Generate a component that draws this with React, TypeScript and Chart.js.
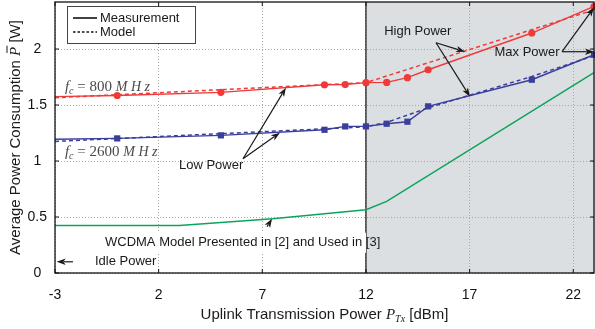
import React, { useEffect, useRef } from "react";
import { Chart, registerables } from "chart.js";

Chart.register(...registerables);

// ---- data ----
const xTicks = [-3, 2, 7, 12, 17, 22];
const yTicks = [0, 0.5, 1, 1.5, 2];
const measX = [-3, 0, 5, 10, 11, 12, 13, 14, 15, 20, 23];
const meas800 = [1.575, 1.585, 1.613, 1.681, 1.683, 1.7, 1.702, 1.744, 1.815, 2.143, 2.38];
const meas2600 = [1.195, 1.202, 1.229, 1.279, 1.309, 1.309, 1.333, 1.351, 1.488, 1.726, 1.949];
const model800X = [-3, 12, 23];
const model800 = [1.565, 1.7, 2.35];
const model2600X = [-3, 12, 13, 15, 20, 23];
const model2600 = [1.175, 1.305, 1.345, 1.475, 1.755, 1.94];
const wcdmaX = [-3, 3, 7.5, 12, 13, 23];
const wcdma = [0.425, 0.425, 0.485, 0.565, 0.64, 1.79];
const highPowerRange = [12, 23];

const RED = "#f03a3a";
const BLUE = "#3a3f9c";
const GREEN = "#0ea35c";
const SANS = "'Liberation Sans', Arial, sans-serif";
const SERIF = "'Liberation Serif', 'DejaVu Serif', serif";

const pts = (xs: number[], ys: number[]) => xs.map((x, i) => ({ x, y: ys[i] }));

type Seg = { t: string; f: string; dy?: number; bar?: boolean };

function segWidth(ctx: CanvasRenderingContext2D, segs: Seg[]) {
  let w = 0;
  for (const s of segs) {
    ctx.font = s.f;
    w += ctx.measureText(s.t).width;
  }
  return w;
}

function drawSegs(ctx: CanvasRenderingContext2D, segs: Seg[], x: number, y: number, align: "left" | "center") {
  const total = segWidth(ctx, segs);
  let cx = align === "center" ? x - total / 2 : x;
  ctx.textAlign = "left";
  ctx.textBaseline = "alphabetic";
  for (const s of segs) {
    ctx.font = s.f;
    const w = ctx.measureText(s.t).width;
    ctx.fillText(s.t, cx, y + (s.dy || 0));
    if (s.bar) {
      ctx.save();
      ctx.lineWidth = 1;
      ctx.strokeStyle = ctx.fillStyle as string;
      ctx.beginPath();
      ctx.moveTo(cx + 3, y - 13);
      ctx.lineTo(cx + w + 1, y - 13);
      ctx.stroke();
      ctx.restore();
    }
    cx += w;
  }
}

function arrow(ctx: CanvasRenderingContext2D, x0: number, y0: number, x1: number, y1: number) {
  const ang = Math.atan2(y1 - y0, x1 - x0);
  const L = 9, W = 3.2;
  ctx.beginPath();
  ctx.moveTo(x0, y0);
  ctx.lineTo(x1 - Math.cos(ang) * L * 0.8, y1 - Math.sin(ang) * L * 0.8);
  ctx.stroke();
  ctx.beginPath();
  ctx.moveTo(x1, y1);
  ctx.lineTo(x1 - Math.cos(ang) * L + Math.sin(ang) * W, y1 - Math.sin(ang) * L - Math.cos(ang) * W);
  ctx.lineTo(x1 - Math.cos(ang) * L * 0.75, y1 - Math.sin(ang) * L * 0.75);
  ctx.lineTo(x1 - Math.cos(ang) * L - Math.sin(ang) * W, y1 - Math.sin(ang) * L + Math.cos(ang) * W);
  ctx.closePath();
  ctx.fill();
}

// annotation positions in data units
const notes = [
  { text: "Low Power", at: [4.53, 0.958], from: [6.07, 1.02], to: [[8.14, 1.655], [7.85, 1.253]] },
  { text: "High Power", at: [14.5, 2.155], from: [15.38, 2.056], to: [[16.78, 1.976], [17.02, 1.574]] },
  { text: "Max Power", at: [19.77, 1.967], from: [21.46, 1.976], to: [[23.0, 2.37], [23.0, 1.976]] },
  { text: "WCDMA Model Presented in [2] and Used in [3]", at: [6.05, 0.27], from: [7.23, 0.413], to: [[7.47, 0.485]] },
];

const overlay = {
  id: "overlay",
  beforeDraw(chart: any) {
    const { ctx, chartArea: a, scales } = chart;
    const x = scales.x;
    const x0 = x.getPixelForValue(highPowerRange[0]);
    const x1 = x.getPixelForValue(highPowerRange[1]);
    ctx.save();
    ctx.fillStyle = "#dcdfe2";
    ctx.fillRect(x0, a.top, x1 - x0 + 2, a.bottom - a.top);
    ctx.restore();
  },
  beforeDatasetsDraw(chart: any) {
    const { ctx, chartArea: a, scales } = chart;
    const px = scales.x.getPixelForValue(highPowerRange[0]);
    ctx.save();
    ctx.strokeStyle = "#111";
    ctx.lineWidth = 1.2;
    ctx.beginPath();
    ctx.moveTo(px, a.top);
    ctx.lineTo(px, a.bottom);
    ctx.stroke();
    ctx.restore();
  },
  afterDraw(chart: any) {
    const { ctx, chartArea: a, scales } = chart;
    const X = (v: number) => scales.x.getPixelForValue(v);
    const Y = (v: number) => scales.y.getPixelForValue(v);
    ctx.save();

    // frame
    ctx.strokeStyle = "#111";
    ctx.lineWidth = 1.3;
    ctx.strokeRect(a.left, a.top, a.right - a.left, a.bottom - a.top);
    // inward ticks
    ctx.lineWidth = 1;
    ctx.beginPath();
    for (const v of xTicks) {
      const p = X(v);
      ctx.moveTo(p, a.bottom);
      ctx.lineTo(p, a.bottom - 4);
      ctx.moveTo(p, a.top);
      ctx.lineTo(p, a.top + 4);
    }
    for (const v of yTicks) {
      const p = Y(v);
      ctx.moveTo(a.left, p);
      ctx.lineTo(a.left + 4, p);
      ctx.moveTo(a.right, p);
      ctx.lineTo(a.right - 4, p);
    }
    ctx.stroke();

    // WCDMA label background
    const w = notes[3];
    ctx.font = `13px ${SANS}`;
    const tw = ctx.measureText(w.text).width;
    ctx.fillStyle = "#fff";
    const bx = X(w.at[0]) - tw / 2 - 2;
    ctx.fillRect(bx, Y(w.at[1]) - 10, Math.min(X(highPowerRange[0]) - bx, tw + 4), 20);

    // annotations
    ctx.fillStyle = "#1a1a1a";
    ctx.strokeStyle = "#1a1a1a";
    ctx.lineWidth = 1.2;
    ctx.textAlign = "center";
    ctx.textBaseline = "middle";
    for (const n of notes) {
      ctx.font = `13px ${SANS}`;
      ctx.fillText(n.text, X(n.at[0]), Y(n.at[1]));
      for (const t of n.to) arrow(ctx, X(n.from[0]), Y(n.from[1]), X(t[0]), Y(t[1]));
    }
    // idle power
    ctx.textAlign = "left";
    ctx.fillText("Idle Power", X(-1.07), Y(0.1));
    arrow(ctx, X(-2.13), Y(0.1), X(-2.92), Y(0.1));

    // f_c labels
    ctx.fillStyle = "#4a4a4a";
    const fc = (val: string) => [
      { t: "f", f: `italic 15px ${SERIF}` },
      { t: "c", f: `italic 10px ${SERIF}`, dy: 3 },
      { t: ` = ${val} `, f: `15px ${SERIF}` },
      { t: "M H z", f: `italic 14px ${SERIF}` },
    ];
    drawSegs(ctx, fc("800"), X(-2.52), Y(1.666) + 5, "left");
    drawSegs(ctx, fc("2600"), X(-2.52), Y(1.092) + 5, "left");

    // legend
    const lx = a.left + 12, ly = a.top + 4;
    ctx.fillStyle = "#fff";
    ctx.fillRect(lx, ly, 128, 37);
    ctx.strokeStyle = "#444";
    ctx.lineWidth = 1;
    ctx.strokeRect(lx + 0.5, ly + 0.5, 128, 37);
    ctx.strokeStyle = "#111";
    ctx.lineWidth = 1.6;
    ctx.beginPath();
    ctx.moveTo(lx + 6, ly + 12);
    ctx.lineTo(lx + 30, ly + 12);
    ctx.stroke();
    ctx.setLineDash([2.5, 2]);
    ctx.beginPath();
    ctx.moveTo(lx + 6, ly + 26);
    ctx.lineTo(lx + 30, ly + 26);
    ctx.stroke();
    ctx.setLineDash([]);
    ctx.fillStyle = "#1a1a1a";
    ctx.font = `13px ${SANS}`;
    ctx.textAlign = "left";
    ctx.textBaseline = "middle";
    ctx.fillText("Measurement", lx + 33, ly + 12);
    ctx.fillText("Model", lx + 33, ly + 26);

    // axis titles
    ctx.fillStyle = "#1a1a1a";
    drawSegs(
      ctx,
      [
        { t: "Uplink Transmission Power ", f: `15px ${SANS}` },
        { t: "P", f: `italic 15px ${SERIF}` },
        { t: "Tx", f: `italic 10px ${SERIF}`, dy: 3 },
        { t: " [dBm]", f: `15px ${SANS}` },
      ],
      (a.left + a.right) / 2,
      319,
      "center"
    );
    ctx.save();
    ctx.translate(20, (a.top + a.bottom) / 2);
    ctx.rotate(-Math.PI / 2);
    drawSegs(
      ctx,
      [
        { t: "Average Power Consumption ", f: `15px ${SANS}` },
        { t: "P", f: `italic 15px ${SERIF}`, bar: true },
        { t: " [W]", f: `15px ${SANS}` },
      ],
      0,
      0,
      "center"
    );
    ctx.restore();

    ctx.restore();
  },
};

export default function App() {
  const ref = useRef<HTMLCanvasElement>(null);
  useEffect(() => {
    const radii = (r: number) => measX.map((_, i) => (i === 0 ? 0 : r));
    const chart = new Chart(ref.current!, {
      type: "line",
      data: {
        datasets: [
          {
            label: "800 model",
            data: pts(model800X, model800),
            borderColor: RED,
            borderWidth: 1.5,
            borderDash: [4, 3],
            pointRadius: 0,
            fill: false,
          },
          {
            label: "2600 model",
            data: pts(model2600X, model2600),
            borderColor: BLUE,
            borderWidth: 1.5,
            borderDash: [4, 3],
            pointRadius: 0,
            fill: false,
          },
          {
            label: "800 measurement",
            data: pts(measX, meas800),
            borderColor: RED,
            backgroundColor: RED,
            borderWidth: 1.4,
            pointStyle: "circle",
            pointRadius: radii(3.6),
            pointBorderWidth: 0,
            fill: false,
          },
          {
            label: "2600 measurement",
            data: pts(measX, meas2600),
            borderColor: BLUE,
            backgroundColor: BLUE,
            borderWidth: 1.4,
            pointStyle: "rect",
            pointRadius: radii(4.4),
            pointBorderWidth: 0,
            fill: false,
          },
          {
            label: "WCDMA",
            data: pts(wcdmaX, wcdma),
            borderColor: GREEN,
            borderWidth: 1.5,
            pointRadius: 0,
            fill: false,
          },
        ],
      },
      options: {
        responsive: false,
        animation: false,
        clip: false as any,
        layout: { autoPadding: false, padding: { top: 2, right: 1, left: 0, bottom: 0 } },
        plugins: { legend: { display: false }, tooltip: { enabled: false } },
        scales: {
          x: {
            type: "linear",
            min: -3,
            max: 23,
            afterBuildTicks: (s: any) => {
              s.ticks = xTicks.map((v) => ({ value: v }));
            },
            afterFit: (s: any) => {
              s.height = 56;
              s.paddingLeft = 0;
              s.paddingRight = 0;
            },
            ticks: {
              font: { size: 14, family: SANS },
              color: "#111",
              padding: 14,
              maxRotation: 0,
              autoSkip: false,
            },
            grid: { color: "#a8a8a8", lineWidth: 1, drawTicks: false },
            border: { display: false, dash: [1, 2] },
          },
          y: {
            type: "linear",
            min: 0,
            max: 2.42,
            afterBuildTicks: (s: any) => {
              s.ticks = yTicks.map((v) => ({ value: v }));
            },
            afterFit: (s: any) => {
              s.width = 55;
              s.paddingTop = 0;
              s.paddingBottom = 0;
            },
            ticks: {
              font: { size: 14, family: SANS },
              color: "#111",
              padding: 8,
              crossAlign: "center",
              callback: (v: any) => String(v),
            },
            grid: { color: "#a8a8a8", lineWidth: 1, drawTicks: false },
            border: { display: false, dash: [1, 2] },
          },
        },
      },
      plugins: [overlay],
    });
    return () => chart.destroy();
  }, []);
  return (
    <div style={{ position: "absolute", left: 0, top: 0, width: 595, height: 329, background: "#fff" }}>
      <canvas ref={ref} width={595} height={329} style={{ display: "block" }} />
    </div>
  );
}
